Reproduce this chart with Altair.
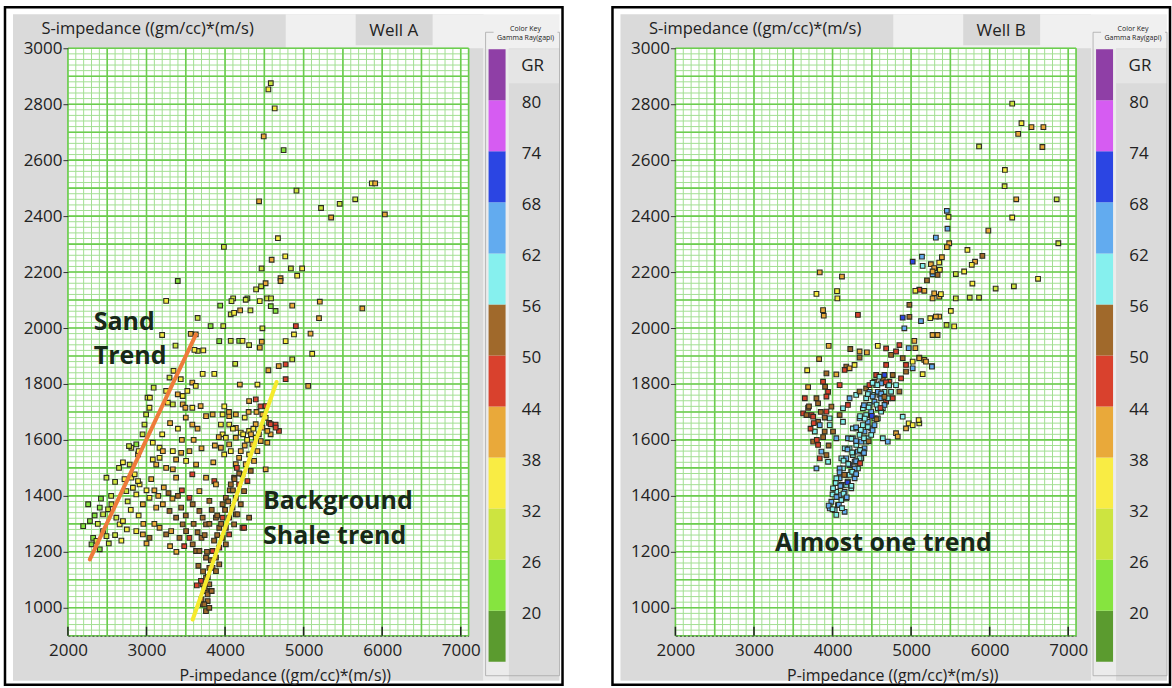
import altair as alt
import pandas as pd

# ---------------- Well A: P-impedance, S-impedance, gamma ray (gapi) ----------------
A_PI = [
    4582, 4551, 4632, 4492, 4745, 4909, 4433, 5868, 5911, 5222,
    5459, 5657, 5350, 6034, 4673, 3985, 4593, 4766, 4465, 4838,
    4981, 4918, 4706, 4706, 4516, 4459, 4395, 4103, 4082, 4284,
    4263, 4534, 4585, 4441, 3938, 4072, 4115, 4192, 4323, 4582,
    4643, 4855, 5206, 5747, 3651, 5196, 3816, 3977, 4901, 4475,
    3398, 3250, 3199, 3563, 3627, 3723, 3652, 3610, 3926, 4072,
    4180, 4222, 4306, 4442, 4467, 4771, 4877, 5088, 5109, 4855,
    4771, 4683, 4551, 4771, 5058, 4188, 4412, 4129, 3863, 3715,
    3369, 3293, 3344, 3436, 3583, 3627, 3520, 3091, 3013, 3043,
    3250, 3398, 3461, 3272, 3335, 3461, 3495, 3583, 3689, 3583,
    3758, 3842, 3968, 4053, 4137, 3947, 4053, 4137, 4306, 4391,
    4475, 4517, 4560, 4643, 4580, 4538, 4686, 4517, 2974, 2995,
    3038, 2870, 2807, 2777, 2892, 2786, 3080, 3166, 3208, 3080,
    3166, 3124, 3335, 3377, 3441, 3504, 3250, 3335, 3377, 3546,
    3631, 3758, 3863, 3884, 3583, 2490, 2257, 2194, 2405, 2447,
    2511, 2553, 2321, 2363, 2300, 2447, 2490, 2405, 2616, 2658,
    2700, 2743, 2827, 2870, 2912, 2807, 2849, 2892, 2954, 3038,
    3124, 2870, 2954, 3038, 3166, 3250, 3314, 3208, 3293, 3377,
    3441, 3461, 3504, 3546, 3588, 3631, 3546, 3588, 3673, 3715,
    3758, 3673, 3800, 3884, 3926, 3968, 4137, 4222, 3673, 3758,
    3800, 3758, 3715, 3758, 3779, 3715, 3841, 3884, 3926, 3968,
    4010, 4052, 4095, 4137, 4179, 4221, 4263, 4306, 4348, 4390,
    4475, 4517, 3968, 4010, 4052, 3947, 3989, 4073, 4137, 4200,
    3799, 3778, 3736, 3693, 3884, 3926, 3841, 4010, 4052, 4115,
    4158, 4200, 4242, 4284, 4327, 4369, 4411, 4454, 4538, 4580,
    4644, 4390, 4306, 4137, 4179, 4073, 4115, 3968, 4010, 4306,
    4242, 3757, 3799, 2280, 2340, 2380, 2420, 2550, 2600, 2650,
    2700, 2720, 2760, 2800, 2900, 2960, 3000, 3060, 3100, 3150,
    3220, 3280, 3330, 3400, 3450, 3500, 3420, 3480, 3600, 3650,
    3700, 3380, 3300, 2600, 2520, 2680, 2750, 3000, 3100, 2900,
    2950, 3200, 3300, 3400, 3450, 3500, 3600, 3700, 3650,
    3700, 3740, 3780, 3720, 3820, 3770, 3860, 3900, 3950, 3900,
    4000, 4040, 4060, 4100, 4120, 4150, 4180, 4200, 4250, 4280,
    4230, 4330, 4360, 4430, 4400, 4450, 4300, 4250, 4100, 4050,
    3990, 3920, 3870, 3850, 3800, 3830, 3740, 3660, 3640, 3830,
]
A_SI = [
    2875, 2853, 2785, 2685, 2636, 2491, 2453, 2517, 2517, 2429,
    2444, 2460, 2395, 2406, 2321, 2290, 2244, 2256, 2213, 2213,
    2213, 2187, 2178, 2168, 2160, 2149, 2138, 2106, 2096, 2106,
    2101, 2106, 2106, 2096, 2080, 2049, 2054, 2063, 2063, 2078,
    2061, 2080, 2094, 2070, 2036, 2035, 2007, 2007, 2007, 1999,
    2168, 2097, 1975, 1979, 1977, 1920, 1918, 1922, 1953, 1954,
    1954, 1954, 1939, 1930, 1951, 1953, 1977, 1980, 1908, 1888,
    1870, 1864, 1849, 1817, 1793, 1798, 1798, 1872, 1836, 1836,
    1937, 1823, 1847, 1817, 1805, 1793, 1775, 1787, 1751, 1751,
    1775, 1763, 1757, 1733, 1727, 1727, 1715, 1715, 1721, 1655,
    1685, 1691, 1691, 1685, 1691, 1655, 1655, 1643, 1739, 1745,
    1691, 1721, 1661, 1655, 1620, 1590, 1632, 1495, 1655, 1691,
    1715, 1584, 1572, 1578, 1548, 1512, 1590, 1572, 1560, 1530,
    1536, 1512, 1560, 1530, 1554, 1525, 1500, 1495, 1465, 1560,
    1512, 1465, 1453, 1441, 1477, 1465, 1370, 1292, 1358, 1334,
    1352, 1370, 1250, 1239, 1227, 1274, 1256, 1209, 1322, 1298,
    1310, 1417, 1429, 1405, 1441, 1465, 1477, 1453, 1370, 1393,
    1358, 1274, 1262, 1250, 1286, 1262, 1274, 1370, 1346, 1322,
    1358, 1298, 1274, 1250, 1227, 1203, 1393, 1370, 1346, 1322,
    1298, 1417, 1382, 1322, 1286, 1322, 1334, 1286, 1203, 1179,
    1143, 1108, 1084, 1060, 1024, 1012, 1143, 1179, 1215, 1250,
    1286, 1322, 1358, 1393, 1441, 1477, 1513, 1548, 1584, 1608,
    1644, 1679, 1620, 1608, 1584, 1572, 1548, 1560, 1608, 1626,
    1084, 1048, 1012, 1096, 1131, 1155, 1203, 1227, 1262, 1298,
    1334, 1370, 1417, 1453, 1489, 1525, 1560, 1596, 1632, 1656,
    1644, 1656, 1632, 1513, 1536, 1441, 1465, 1370, 1393, 1322,
    1286, 988, 1000, 1310, 1330, 1300, 1390, 1400, 1450, 1500,
    1520, 1460, 1380, 1350, 1330, 1300, 1420, 1460, 1420, 1400,
    1430, 1410, 1390, 1400, 1420, 1330, 1250, 1220, 1300, 1270,
    1250, 1200, 1220, 1260, 1230, 1240, 1280, 1230, 1300, 1560,
    1620, 1620, 1660, 1640, 1600, 1680, 1600, 1570, 1640,
    1030, 1070, 1110, 1130, 1170, 1200, 1240, 1260, 1300, 1330,
    1350, 1380, 1420, 1420, 1460, 1500, 1480, 1560, 1580, 1600,
    1620, 1620, 1640, 1620, 1700, 1720, 1700, 1680, 1640, 1700,
    1720, 1610, 1580, 1520, 1300, 1350, 1260, 1150, 1080, 1060,
]
A_GR = [
    30, 36, 34, 38, 24, 30, 40, 36, 38, 26,
    30, 28, 40, 42, 36, 30, 40, 36, 28, 30,
    34, 36, 40, 42, 38, 30, 28, 26, 28, 24,
    30, 26, 28, 34, 24, 28, 36, 40, 30, 24,
    22, 38, 40, 42, 26, 42, 22, 30, 44, 28,
    22, 36, 34, 38, 30, 36, 30, 34, 24, 28,
    24, 36, 30, 40, 38, 34, 36, 40, 36, 30,
    44, 42, 38, 46, 40, 38, 36, 30, 34, 36,
    30, 28, 34, 36, 38, 34, 36, 30, 28, 34,
    36, 38, 34, 36, 30, 38, 40, 36, 40, 38,
    42, 40, 36, 38, 40, 36, 34, 38, 42, 44,
    40, 46, 44, 48, 42, 40, 46, 42, 30, 28,
    34, 24, 28, 30, 32, 26, 34, 36, 38, 36,
    34, 38, 36, 40, 38, 36, 38, 40, 42, 38,
    40, 42, 44, 40, 44, 26, 24, 22, 24, 28,
    26, 30, 22, 26, 24, 28, 30, 24, 30, 34,
    32, 30, 34, 36, 34, 32, 36, 34, 38, 36,
    40, 36, 38, 50, 40, 52, 40, 38, 50, 52,
    52, 50, 54, 46, 52, 50, 44, 52, 54, 50,
    50, 42, 52, 54, 50, 46, 52, 50, 54, 52,
    50, 54, 52, 50, 54, 52, 52, 50, 48, 52,
    50, 46, 52, 48, 44, 50, 38, 36, 40, 36,
    38, 34, 36, 34, 38, 40, 36, 34, 38, 36,
    54, 52, 50, 48, 52, 50, 46, 50, 48, 52,
    52, 50, 54, 46, 50, 40, 38, 42, 40, 44,
    46, 38, 36, 42, 40, 50, 52, 54, 50, 52,
    46, 52, 54, 24, 22, 26, 24, 28, 30, 28,
    32, 34, 30, 34, 36, 38, 36, 38, 40, 42,
    40, 50, 42, 52, 44, 54, 50, 46, 52, 50,
    50, 42, 40, 30, 28, 32, 34, 38, 42, 32,
    30, 36, 38, 36, 40, 38, 42, 40, 38,
    52, 54, 50, 52, 54, 50, 52, 54, 50, 52,
    54, 50, 52, 54, 50, 46, 52, 40, 38, 36,
    34, 38, 36, 40, 42, 46, 38, 36, 36, 38,
    34, 38, 40, 42, 50, 52, 52, 50, 48, 52,
]

# ---------------- Well B ----------------
B_PI = [
    6287, 6405, 6363, 6532, 6684, 6671, 5865, 6194, 6190, 6338,
    6853, 6287, 5983, 6874, 5455, 5476, 5463, 5315, 5485, 5455,
    5717, 5907, 5138, 5020, 5392, 5252, 5294, 5358, 5814, 5772,
    5675, 5569, 5366, 5337, 5273, 5147, 5273, 5202, 5780, 6076,
    6308, 6616, 5104, 5168, 5294, 5358, 5379, 5273, 5569, 5746,
    5865, 5506, 4978, 5054, 4893, 4978, 5126, 5244, 5358, 5315,
    5451, 5548, 5273, 5337, 4914, 5041, 5054, 4969, 5168, 5104,
    5265, 5020, 5147, 3837, 4120, 3795, 4057, 4061, 3879, 3888,
    4323, 3951, 3829, 3677, 3922, 3689, 3879, 3905, 3943, 4048,
    4090, 4226, 4344, 4437, 4576, 4682, 4175, 4154, 4217, 4280,
    4344, 3647, 3689, 3626, 3668, 3732, 3795, 3816, 3922, 3985,
    3753, 3816, 3922, 3964, 3837, 3900, 3964, 4006, 4048, 3774,
    3753, 3816, 3858, 3922, 3943, 3837, 3795, 4133, 4090, 4133,
    4217, 4196, 4301, 4344, 4428, 4470, 4534, 4555, 4640, 4724,
    4766, 4682, 4745, 4808, 4851, 4893, 4935, 4935, 4872, 4808,
    4851, 4766, 4597, 4682, 4640, 5020, 5104, 5189, 5265, 4893,
    4969, 4935, 5020, 5104, 5096, 4808, 4830, 4703, 4640, 4027,
    4069, 4112, 4090, 4154, 4133, 4196, 4175, 4238, 4217, 4281,
    4259, 4323, 4302, 4365, 4344, 4407, 4386, 4449, 4428, 4492,
    4471, 4534, 4513, 4576, 4555, 4618, 4597, 4661, 3985, 4048,
    4154, 4175, 4238, 4281, 4323, 4365, 4407, 4449, 4492, 4534,
    4576, 4618, 4661, 4703, 4048, 4090, 4133, 4175, 4217, 4259,
    4302, 4344, 4386, 4428, 4471, 4112, 4175, 4217, 4281, 4344,
    4386, 4428, 4492, 4534, 4576, 4618, 4661, 4703, 4745, 4259,
    4196, 4154, 4112, 4090, 4048, 4006, 3964,
    3950, 4000, 4080, 4120, 4000, 4050, 4140, 4180, 4040, 4100,
    4190, 4240, 4090, 4150, 4250, 4300, 4140, 4200, 4300, 4350,
    4190, 4250, 4350, 4400, 4240, 4300, 4400, 4460, 4300, 4360,
    4450, 4510, 4350, 4410, 4500, 4560, 4400, 4460, 4560, 4610,
    4450, 4510, 4620, 4660, 4510, 4570, 4680, 4720, 3700, 3760,
    3850, 3880, 3720, 3800, 3900, 3950,
]
B_SI = [
    2802, 2732, 2694, 2718, 2718, 2647, 2649, 2565, 2507, 2460,
    2460, 2395, 2348, 2303, 2419, 2397, 2355, 2323, 2303, 2289,
    2279, 2258, 2255, 2237, 2253, 2228, 2214, 2234, 2237, 2226,
    2202, 2193, 2208, 2190, 2192, 2222, 2202, 2170, 2159, 2141,
    2149, 2176, 2137, 2133, 2124, 2112, 2121, 2106, 2106, 2109,
    2109, 2061, 2083, 2133, 2037, 2040, 2025, 2035, 2041, 2041,
    2011, 2006, 1975, 1975, 1999, 1954, 1928, 1928, 1886, 1894,
    1864, 1856, 1835, 2199, 2184, 2122, 2132, 2106, 2064, 2044,
    2047, 1936, 1889, 1849, 1838, 1789, 1808, 1790, 1772, 1834,
    1796, 1925, 1916, 1913, 1936, 1927, 1862, 1850, 1856, 1868,
    1894, 1749, 1715, 1695, 1689, 1689, 1749, 1731, 1755, 1719,
    1683, 1665, 1701, 1677, 1653, 1630, 1653, 1630, 1606, 1630,
    1594, 1582, 1558, 1546, 1522, 1534, 1498, 1713, 1689, 1665,
    1749, 1725, 1761, 1773, 1784, 1796, 1808, 1832, 1820, 1808,
    1832, 1868, 1904, 1916, 1939, 1892, 1868, 1844, 1820, 1796,
    1773, 1749, 1761, 1737, 1713, 1880, 1892, 1880, 1862, 1683,
    1659, 1641, 1653, 1659, 1671, 1624, 1612, 1594, 1606, 1349,
    1367, 1385, 1403, 1415, 1439, 1451, 1475, 1487, 1510, 1522,
    1546, 1558, 1582, 1594, 1618, 1630, 1653, 1665, 1689, 1701,
    1725, 1737, 1761, 1772, 1796, 1802, 1826, 1832, 1379, 1332,
    1343, 1391, 1427, 1463, 1498, 1534, 1570, 1606, 1641, 1677,
    1713, 1749, 1772, 1796, 1415, 1463, 1498, 1534, 1570, 1606,
    1641, 1677, 1713, 1749, 1772, 1439, 1439, 1475, 1498, 1534,
    1558, 1594, 1618, 1653, 1677, 1701, 1725, 1749, 1772, 1641,
    1606, 1570, 1534, 1498, 1463, 1427, 1355,
    1365, 1352, 1368, 1356, 1405, 1396, 1408, 1395, 1446, 1435,
    1448, 1436, 1484, 1475, 1486, 1478, 1526, 1514, 1524, 1516,
    1566, 1555, 1564, 1553, 1604, 1596, 1606, 1595, 1645, 1636,
    1646, 1634, 1685, 1676, 1686, 1674, 1724, 1716, 1726, 1714,
    1764, 1755, 1766, 1754, 1804, 1796, 1806, 1795, 1720, 1660,
    1700, 1610, 1640, 1600, 1680, 1580,
]
B_GR = [
    30, 36, 38, 40, 38, 40, 30, 36, 28, 40,
    30, 34, 38, 30, 64, 36, 62, 64, 38, 40,
    36, 52, 64, 68, 40, 38, 40, 36, 38, 36,
    34, 30, 34, 52, 64, 60, 40, 50, 36, 28,
    30, 36, 48, 40, 38, 40, 36, 38, 26, 28,
    30, 36, 54, 34, 72, 52, 64, 36, 38, 40,
    30, 32, 40, 38, 64, 38, 40, 62, 38, 40,
    38, 64, 36, 38, 40, 36, 34, 36, 38, 40,
    48, 38, 40, 36, 52, 40, 48, 52, 46, 38,
    46, 50, 38, 40, 36, 44, 52, 48, 40, 36,
    50, 46, 52, 48, 50, 46, 52, 50, 46, 52,
    48, 54, 46, 60, 62, 52, 58, 50, 62, 60,
    52, 48, 62, 50, 60, 48, 62, 58, 52, 60,
    62, 48, 60, 52, 50, 46, 52, 48, 50, 46,
    50, 48, 52, 46, 44, 50, 48, 52, 46, 60,
    50, 48, 62, 46, 60, 36, 40, 38, 64, 60,
    36, 38, 34, 30, 34, 40, 38, 62, 60, 60,
    64, 58, 62, 66, 60, 58, 64, 60, 70, 62,
    58, 64, 60, 66, 58, 62, 60, 64, 58, 62,
    60, 66, 58, 62, 60, 64, 58, 70, 62, 58,
    64, 60, 58, 62, 60, 58, 64, 60, 62, 58,
    60, 64, 58, 62, 60, 66, 58, 62, 60, 64,
    58, 62, 60, 58, 66, 62, 58, 60, 64, 60,
    62, 58, 60, 62, 58, 60, 62, 58, 60, 60,
    62, 58, 60, 62, 58, 60, 62,
    62, 58, 66, 60, 60, 64, 58, 62, 58, 62,
    70, 60, 62, 52, 60, 64, 60, 58, 62, 46,
    64, 60, 58, 62, 58, 66, 60, 52, 62, 60,
    58, 64, 60, 58, 70, 50, 62, 60, 58, 46,
    58, 64, 62, 52, 60, 58, 48, 60, 52, 46,
    50, 52, 48, 46, 52, 50,
]

# ---------------- trend lines and annotations ----------------
A_TREND_X1 = [2279, 3588]
A_TREND_Y1 = [1173, 958]
A_TREND_X2 = [3630, 4656]
A_TREND_Y2 = [1977, 1807]
A_TREND_COLORS = ["#ee7b3a", "#f6ea2c"]

A_NOTE_TEXT = ["Sand", "Trend", "Background", "Shale trend"]
A_NOTE_PI = [2329, 2329, 4483, 4483]
A_NOTE_SI = [2021, 1900, 1382, 1257]
B_NOTE_TEXT = ["Almost one trend"]
B_NOTE_PI = [3267]
B_NOTE_SI = [1230]

# ---------------- gamma-ray colour key ----------------
GR_BREAKS = [20, 26, 32, 38, 44, 50, 56, 62, 68, 74, 80]
GR_COLORS = ["#5b9b2f", "#86e43f", "#cde440", "#f9ec44", "#e9a93a", "#d9412d",
             "#a0692b", "#86f0ee", "#62abef", "#2b45e3", "#d65cf2", "#8f3fa6"]
KEY_LO = [14, 20, 26, 32, 38, 44, 50, 56, 62, 68, 74, 80]
KEY_HI = [20, 26, 32, 38, 44, 50, 56, 62, 68, 74, 80, 86]
KEY_LABELS = ["20", "26", "32", "38", "44", "50", "56", "62", "68", "74", "80"]

# ---------------- axes and grid ----------------
X_LABELS = [2000, 3000, 4000, 5000, 6000, 7000]
Y_LABELS = [1000, 1200, 1400, 1600, 1800, 2000, 2200, 2400, 2600, 2800, 3000]
X_MINOR = list(range(2000, 7101, 100))
X_MAJOR = list(range(2000, 7001, 500)) + [7100]
Y_MINOR = list(range(900, 3001, 20))
Y_MAJOR = list(range(900, 3001, 100))

X_TITLE = "P-impedance ((gm/cc)*(m/s))"
Y_TITLE = "S-impedance ((gm/cc)*(m/s)"

W, H = 401, 588
FONT = "Open Sans"
INK = "#222222"
PANEL_GRAY = "#dadada"
MINOR_GREEN = "#a3df93"
MAJOR_GREEN = "#6ccd4f"

XS = alt.Scale(domain=[2000, 7100], nice=False, zero=False)
YS = alt.Scale(domain=[900, 3000], nice=False, zero=False)
CS = alt.Scale(type="threshold", domain=GR_BREAKS, range=GR_COLORS)
KY = alt.Scale(domain=[14, 86], range=[614, 1], nice=False, zero=False)

AX_X = alt.Axis(
    values=X_LABELS, format="d", title=X_TITLE, grid=False, ticks=False, tickSize=0,
    labelPadding=7, labelFontSize=17, labelFont=FONT, labelColor=INK,
    labelFlush=False, domain=True, domainColor="#444444", domainDash=[2, 2],
    titleFont=FONT, titleFontSize=16, titleFontWeight="normal", titleColor=INK,
    titleX=217, titleY=40, titleAlign="center", titleBaseline="middle", zindex=1,
)
AX_Y = alt.Axis(
    values=Y_LABELS, format="d", title=Y_TITLE, grid=False, domain=False, tickSize=5,
    tickColor="#333333", labelPadding=1, labelFontSize=17, labelFont=FONT,
    labelColor=INK, labelFlush=False, titleFont=FONT, titleFontSize=16.5,
    titleFontWeight="normal", titleColor=INK, titleAngle=0, titleX=-27, titleY=-20,
    titleAlign="left", titleBaseline="middle", zindex=1,
)

ONE = pd.DataFrame({"k": [0]})


def box(x0, x1, y0, y1, fill, stroke=None, width=0.0):
    props = {"fill": fill}
    if stroke:
        props.update(stroke=stroke, strokeWidth=width)
    return alt.Chart(ONE).mark_rect(**props).encode(
        x=alt.value(x0), x2=alt.value(x1), y=alt.value(y0), y2=alt.value(y1)
    )


def outline(x0, x1, y0, y1, stroke, width):
    return alt.Chart(ONE).mark_rect(fillOpacity=0, stroke=stroke, strokeWidth=width).encode(
        x=alt.value(x0), x2=alt.value(x1), y=alt.value(y0), y2=alt.value(y1)
    )


def caption(text, x, y, size, **kw):
    return alt.Chart(ONE).mark_text(text=text, fontSize=size, font=FONT, color=INK, **kw).encode(
        x=alt.value(x), y=alt.value(y)
    )


def panel(well, pi, si, gr, notes, trends=None):
    frame = [
        box(-63, 495, -41, 637, "#ffffff", "#000000", 2.5),
        box(-55, 416, -34, 633, PANEL_GRAY),
        box(218, 492, -34, 0, "#f0f0f0"),
        box(288, 365, -34, -3, "#d8d8d8"),
        box(416, 441, 0, 633, "#ebebeb"),
        box(441, 492, 0, 633, PANEL_GRAY),
        box(441, 492, 1, 35, "#e5e5e5"),
        outline(418, 492, -16, 628, "#a8a8a8", 0.8),
        box(426, 490, -24, -4, "#f0f0f0"),
        caption("Color Key", 458, -19, 7, align="center", baseline="middle"),
        caption("Gamma Ray(gapi)", 458, -10, 7, align="center", baseline="middle"),
        caption(well, 326, -17, 17, align="center", baseline="middle"),
        caption("GR", 465, 18, 17, align="center", baseline="middle"),
        box(0, W, 0, H, "#ffffff"),
    ]

    grid = [
        alt.Chart(pd.DataFrame({"v": X_MINOR})).mark_rule(color=MINOR_GREEN, strokeWidth=1).encode(
            x=alt.X("v:Q", scale=XS, axis=AX_X), y=alt.value(0), y2=alt.value(H)),
        alt.Chart(pd.DataFrame({"v": Y_MINOR})).mark_rule(color=MINOR_GREEN, strokeWidth=1).encode(
            y=alt.Y("v:Q", scale=YS, axis=AX_Y), x=alt.value(0), x2=alt.value(W)),
        alt.Chart(pd.DataFrame({"v": X_MAJOR})).mark_rule(color=MAJOR_GREEN, strokeWidth=1.6).encode(
            x=alt.X("v:Q", scale=XS, axis=AX_X), y=alt.value(0), y2=alt.value(H)),
        alt.Chart(pd.DataFrame({"v": Y_MAJOR})).mark_rule(color=MAJOR_GREEN, strokeWidth=1.6).encode(
            y=alt.Y("v:Q", scale=YS, axis=AX_Y), x=alt.value(0), x2=alt.value(W)),
        alt.Chart(pd.DataFrame({"v": X_LABELS})).mark_rule(color="#222222", strokeWidth=1.5).encode(
            x=alt.X("v:Q", scale=XS, axis=AX_X), y=alt.value(H - 9), y2=alt.value(H)),
    ]

    pts = alt.Chart(pd.DataFrame({"pi": pi, "si": si, "gr": gr})).mark_square(
        size=22, stroke="#2c2c22", strokeWidth=1.1, opacity=1
    ).encode(
        x=alt.X("pi:Q", scale=XS, axis=AX_X),
        y=alt.Y("si:Q", scale=YS, axis=AX_Y),
        fill=alt.Fill("gr:Q", scale=CS, legend=None),
    )

    # trend lines sit on top of the point cloud
    lines = []
    if trends is not None:
        x1, y1, x2, y2, colors = trends
        for i, c in enumerate(colors):
            seg = pd.DataFrame({"x1": [x1[i]], "y1": [y1[i]], "x2": [x2[i]], "y2": [y2[i]]})
            lines.append(
                alt.Chart(seg).mark_rule(color=c, strokeWidth=4, strokeCap="round").encode(
                    x=alt.X("x1:Q", scale=XS, axis=AX_X), x2="x2:Q",
                    y=alt.Y("y1:Q", scale=YS, axis=AX_Y), y2="y2:Q")
            )

    txt, npi, nsi = notes
    note = alt.Chart(pd.DataFrame({"t": txt, "pi": npi, "si": nsi})).mark_text(
        align="left", baseline="middle", font=FONT, fontSize=25, fontWeight="bold", color="#182818"
    ).encode(
        x=alt.X("pi:Q", scale=XS, axis=AX_X),
        y=alt.Y("si:Q", scale=YS, axis=AX_Y),
        text="t:N",
    )

    main = alt.layer(*frame, *grid, pts, *lines, note)

    key_bar = alt.Chart(pd.DataFrame({"lo": KEY_LO, "hi": KEY_HI})).mark_rect().encode(
        x=alt.value(421), x2=alt.value(438),
        y=alt.Y("lo:Q", scale=KY, axis=None), y2="hi:Q",
        fill=alt.Fill("lo:Q", scale=CS, legend=None),
    )
    key_txt = alt.Chart(pd.DataFrame({"v": GR_BREAKS, "t": KEY_LABELS})).mark_text(
        align="center", baseline="middle", font=FONT, fontSize=17, color=INK, dy=3
    ).encode(
        x=alt.value(464),
        y=alt.Y("v:Q", scale=KY, axis=None),
        text="t:N",
    )
    key = alt.layer(key_bar, key_txt)

    return alt.layer(main, key).resolve_scale(y="independent").properties(width=W, height=H)


left = panel(
    "Well A", A_PI, A_SI, A_GR,
    (A_NOTE_TEXT, A_NOTE_PI, A_NOTE_SI),
    (A_TREND_X1, A_TREND_Y1, A_TREND_X2, A_TREND_Y2, A_TREND_COLORS),
)
right = panel("Well B", B_PI, B_SI, B_GR, (B_NOTE_TEXT, B_NOTE_PI, B_NOTE_SI))

chart = alt.hconcat(left, right, spacing=46).properties(
    padding={"left": 3, "top": 5, "right": 0, "bottom": 0},
    background="#ffffff",
).configure_view(stroke=None).configure(font=FONT)

chart.save("out.html", embed_options={"renderer": "svg", "actions": False})
